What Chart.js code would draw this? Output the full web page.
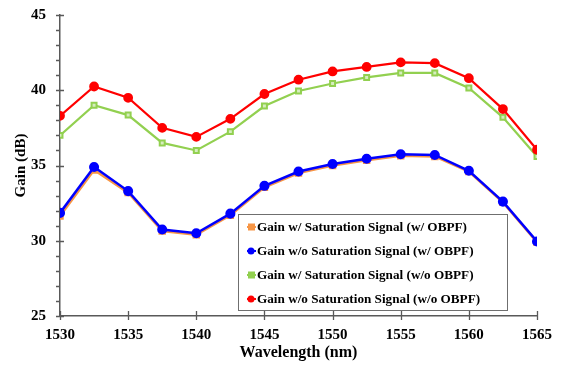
<!DOCTYPE html>
<html>
<head>
<meta charset="utf-8">
<script src="https://cdn.jsdelivr.net/npm/chart.js@4"></script>
<style>
  html, body { margin: 0; padding: 0; background: #fff; }
  #wrap { width: 565px; height: 366px; }
</style>
</head>
<body>
<div id="wrap"><canvas id="gainChart" width="565" height="366"></canvas></div>
<script>
// wavelength points (nm)
const wavelengths = [1530, 1532.5, 1535, 1537.5, 1540, 1542.5, 1545, 1547.5, 1550, 1552.5, 1555, 1557.5, 1560, 1562.5, 1565];

// gain values (dB)
const gainSatObpf = [31.65, 34.7, 33.2, 30.65, 30.4, 31.7, 33.55, 34.5, 35.0, 35.35, 35.65, 35.6, 34.6, 32.55, 29.9];
const gainNoSatObpf = [31.85, 34.9, 33.3, 30.75, 30.5, 31.8, 33.65, 34.6, 35.1, 35.45, 35.75, 35.7, 34.65, 32.6, 29.95];
const gainSatNoObpf = [37.0, 39.0, 38.35, 36.5, 36.0, 37.25, 38.95, 39.95, 40.45, 40.85, 41.15, 41.15, 40.15, 38.2, 35.6];
const gainNoSatNoObpf = [38.3, 40.25, 39.5, 37.5, 36.9, 38.1, 39.75, 40.7, 41.25, 41.55, 41.85, 41.8, 40.8, 38.75, 36.05];

const seriesLabels = [
  "Gain w/ Saturation Signal (w/ OBPF)",
  "Gain w/o Saturation Signal (w/ OBPF)",
  "Gain w/ Saturation Signal (w/o OBPF)",
  "Gain w/o Saturation Signal (w/o OBPF)"
];

const xTicks = [1530, 1535, 1540, 1545, 1550, 1555, 1560, 1565];
const yRange = [25, 45];

const serif = "'Liberation Serif', 'Times New Roman', serif";
const axisColor = "#595959";

function pts(ys) {
  return ys.map((y, i) => ({ x: wavelengths[i], y: y }));
}

// draws the tick marks and the boxed legend inside the plot
const extras = {
  id: "extras",
  afterDraw(chart) {
    const ctx = chart.ctx;
    const xs = chart.scales.x, ys = chart.scales.y;
    const area = chart.chartArea;
    ctx.save();
    ctx.strokeStyle = axisColor;
    ctx.lineWidth = 1.3;
    ctx.beginPath();
    for (let v = yRange[0]; v <= yRange[1]; v++) {
      const py = Math.round(ys.getPixelForValue(v)) + 0.5;
      const major = v % 5 === 0;
      ctx.moveTo(area.left - 4, py);
      ctx.lineTo(area.left + (major ? 4 : 0), py);
    }
    xTicks.forEach(v => {
      const px = Math.round(xs.getPixelForValue(v)) + 0.5;
      ctx.moveTo(px, area.bottom - 5);
      ctx.lineTo(px, area.bottom + 4);
    });
    ctx.stroke();

    // legend
    const bx = 238, by = 214, bw = 269, bh = 96;
    ctx.fillStyle = "#fff";
    ctx.fillRect(bx, by, bw, bh);
    ctx.strokeStyle = "#6f6f6f";
    ctx.lineWidth = 1;
    ctx.strokeRect(bx + 0.5, by + 0.5, bw, bh);
    ctx.font = "bold 13.2px " + serif;
    ctx.textBaseline = "middle";
    chart.data.datasets.forEach((ds, i) => {
      const cy = by + 13 + i * 24;
      ctx.strokeStyle = ds.borderColor;
      ctx.lineWidth = 2;
      ctx.beginPath();
      ctx.moveTo(bx + 9, cy);
      ctx.lineTo(bx + 18, cy);
      ctx.stroke();
      ctx.fillStyle = ds.borderColor;
      if (ds.pointStyle === "rect") {
        ctx.fillRect(bx + 10, cy - 3.5, 7, 7);
      } else {
        ctx.beginPath();
        ctx.arc(bx + 13, cy, 3.5, 0, Math.PI * 2);
        ctx.fill();
      }
      ctx.fillStyle = "#000";
      ctx.fillText(ds.label, bx + 19, cy + 1);
    });
    ctx.restore();
  }
};

new Chart(document.getElementById("gainChart"), {
  type: "line",
  data: {
    datasets: [
      {
        label: seriesLabels[0],
        data: pts(gainSatObpf),
        borderColor: "#f79646",
        backgroundColor: "#f79646",
        pointBackgroundColor: "#f79646",
        pointBorderColor: "#f79646",
        pointStyle: "rect",
        pointRadius: 3.5,
        borderWidth: 2.5,
        order: 4
      },
      {
        label: seriesLabels[1],
        data: pts(gainNoSatObpf),
        borderColor: "#0000ff",
        backgroundColor: "#0000ff",
        pointBackgroundColor: "#0000ff",
        pointBorderColor: "#0000ff",
        pointStyle: "circle",
        pointRadius: 3.8,
        borderWidth: 2.5,
        order: 3
      },
      {
        label: seriesLabels[2],
        data: pts(gainSatNoObpf),
        borderColor: "#92d050",
        backgroundColor: "#d6edbf",
        pointBackgroundColor: "#d6edbf",
        pointBorderColor: "#92d050",
        pointBorderWidth: 2,
        pointStyle: "rect",
        pointRadius: 3.5,
        borderWidth: 2.2,
        order: 2
      },
      {
        label: seriesLabels[3],
        data: pts(gainNoSatNoObpf),
        borderColor: "#ff0000",
        backgroundColor: "#ff0000",
        pointBackgroundColor: "#ff0000",
        pointBorderColor: "#ff0000",
        pointStyle: "circle",
        pointRadius: 3.8,
        borderWidth: 2.2,
        order: 1
      }
    ]
  },
  options: {
    responsive: false,
    animation: false,
    layout: { padding: { top: 12, right: 28, left: 0, bottom: 0 } },
    plugins: {
      legend: { display: false },
      tooltip: { enabled: false }
    },
    scales: {
      x: {
        type: "linear",
        min: 1530,
        max: 1565,
        afterFit(s) { s.height = 50; },
        afterBuildTicks(s) { s.ticks = xTicks.map(v => ({ value: v })); },
        grid: { display: false },
        border: { display: true, color: axisColor, width: 1.5 },
        ticks: {
          color: "#000",
          padding: 2,
          callback: v => String(v),
          font: { family: serif, size: 15, weight: "bold" }
        },
        title: {
          display: true,
          text: "Wavelength (nm)",
          color: "#000",
          padding: { top: 0, bottom: 4 },
          font: { family: serif, size: 16, weight: "bold" }
        }
      },
      y: {
        min: yRange[0],
        max: yRange[1],
        afterFit(s) { s.width = 60; },
        grid: { display: false },
        border: { display: true, color: axisColor, width: 1.5 },
        ticks: {
          stepSize: 5,
          color: "#000",
          padding: 6,
          font: { family: serif, size: 15, weight: "bold" }
        },
        title: {
          display: true,
          text: "Gain (dB)",
          color: "#000",
          padding: { top: 12, bottom: 0 },
          font: { family: serif, size: 15, weight: "bold" }
        }
      }
    }
  },
  plugins: [extras]
});
</script>
</body>
</html>
